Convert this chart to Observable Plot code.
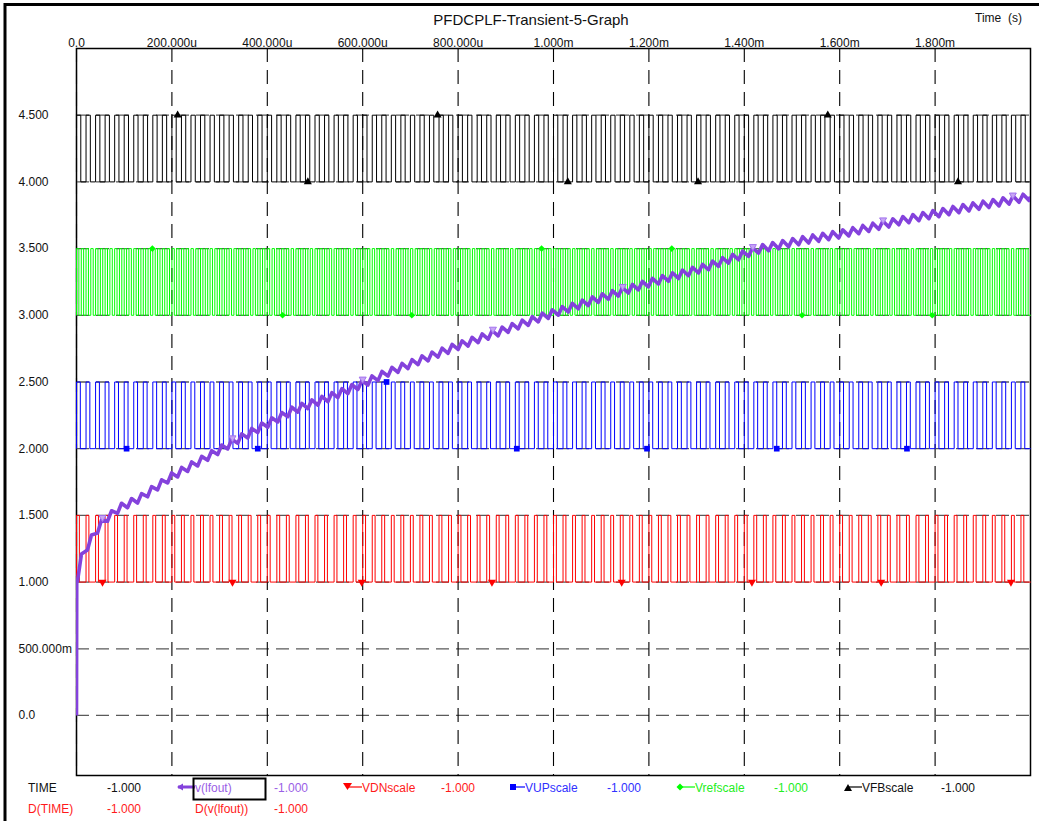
<!DOCTYPE html>
<html><head><meta charset="utf-8">
<script src="https://cdn.jsdelivr.net/npm/d3@7"></script>
<script src="https://cdn.jsdelivr.net/npm/@observablehq/plot@0.6"></script>
<style>
html,body{margin:0;padding:0;background:#fff;}
#chart{width:1039px;height:821px;}
svg text{font-family:"Liberation Sans",Arial,sans-serif;}
</style></head><body><div id="chart"></div>
<script>
// ---- axis ticks / labels ----
const xTicks = [0, 200e-6, 400e-6, 600e-6, 800e-6, 1.0e-3, 1.2e-3, 1.4e-3, 1.6e-3, 1.8e-3];
const xTickLabels = ["0.0","200.000u","400.000u","600.000u","800.000u","1.000m","1.200m","1.400m","1.600m","1.800m"];
const yTicks = [0, 0.5, 1.0, 1.5, 2.0, 2.5, 3.0, 3.5, 4.0, 4.5];
const yTickLabels = ["0.0","500.000m","1.000","1.500","2.000","2.500","3.000","3.500","4.000","4.500"];

// ---- v(lfout): mean level (time in ms, volts) ----
const lfoutTimeMs = [0, 0.0005, 0.0084, 0.0336, 0.0566, 0.0923, 0.134, 0.199, 0.260, 0.329, 0.386, 0.455, 0.527, 0.596, 0.652, 0.799, 0.889, 0.994, 1.099, 1.198, 1.309, 1.435, 1.519, 1.603, 1.729, 1.854, 1.938, 2.0];
const lfoutVolts  = [0, 1.00, 1.17, 1.34, 1.46, 1.56, 1.63, 1.79, 1.91, 2.05, 2.16, 2.29, 2.38, 2.48, 2.57, 2.77, 2.88, 3.01, 3.13, 3.24, 3.35, 3.50, 3.56, 3.61, 3.71, 3.80, 3.85, 3.89];
const lfoutRipplePeriodUs = 21;   // tooth spacing seen on the trace
const lfoutRippleVolts = 0.055;   // tooth height seen on the trace
const lfoutMarkerMs = [0.0545, 0.327, 0.600, 0.873, 1.145, 1.418, 1.691, 1.963];

// ---- scaled digital signals: [low, high] level, period (us), pulse width (us) ----
const vdnLevels = [1.0, 1.5];  const vdnPeriodUs = 20;  const vdnPulseUs = 6;
const vupLevels = [2.0, 2.5];  const vupPeriodUs = 20;  const vupPulseUs = 8;
const vrefLevels = [3.0, 3.5]; const vrefPeriodUs = 10; const vrefPulseUs = 5;
const vfbLevels = [4.0, 4.5];  const vfbPeriodUs = 20;  const vfbPulseUs = 9;

// ---- marker positions on each trace (ms, volts) ----
const vdnMarkerMs  = [0.0545, 0.327, 0.598, 0.871, 1.143, 1.416, 1.687, 1.959];
const vdnMarkerV   = [1.0, 1.0, 1.0, 1.0, 1.0, 1.0, 1.0, 1.0];
const vupMarkerMs  = [0.105, 0.380, 0.650, 0.923, 1.196, 1.468, 1.741];
const vupMarkerV   = [2.0, 2.0, 2.5, 2.0, 2.0, 2.0, 2.0];
const vrefMarkerMs = [0.159, 0.432, 0.703, 0.975, 1.248, 1.521, 1.794];
const vrefMarkerV  = [3.5, 3.0, 3.0, 3.5, 3.5, 3.0, 3.0];
const vfbMarkerMs  = [0.212, 0.485, 0.757, 1.030, 1.303, 1.575, 1.848];
const vfbMarkerV   = [4.5, 4.0, 4.5, 4.0, 4.0, 4.5, 4.0];

const tEndUs = 2000;
const colors = {lfout:"#8442dc", vdn:"#ff0000", vup:"#0000ff", vref:"#00ff00", vfb:"#000000"};

function squareWave(levels, periodUs, pulseUs) {
  const pts = [{t: 0, v: levels[0]}];
  for (let s = 0; s < tEndUs; s += periodUs) {
    pts.push({t: s * 1e-6, v: levels[1]});
    pts.push({t: Math.min(s + pulseUs, tEndUs) * 1e-6, v: levels[0]});
  }
  pts.push({t: tEndUs * 1e-6, v: pts[pts.length - 1].v});
  return pts;
}
function markers(ms, v) { return ms.map((m, i) => ({t: m * 1e-3, v: v[i]})); }

const env = d3.scaleLinear().domain(lfoutTimeMs).range(lfoutVolts);
const lfout = [{t: 0, v: lfoutVolts[0]}, {t: lfoutTimeMs[1] * 1e-3, v: lfoutVolts[1]}];
for (let s = 2; s < tEndUs; s += lfoutRipplePeriodUs) {
  const a = s, b = s + lfoutRipplePeriodUs * 0.4;
  lfout.push({t: a * 1e-6, v: env(a / 1000) - lfoutRippleVolts / 2});
  if (b < tEndUs) lfout.push({t: b * 1e-6, v: env(b / 1000) + lfoutRippleVolts / 2});
}
lfout.push({t: tEndUs * 1e-6, v: env(2.0)});

const plot = Plot.plot({
  width: 1039, height: 821,
  marginLeft: 76, marginRight: 9, marginTop: 48, marginBottom: 46,
  style: {fontFamily: "Liberation Sans, Arial, sans-serif", fontSize: "12px", background: "#fff", overflow: "visible"},
  x: {domain: [0, 2.0e-3], label: null},
  y: {domain: [-0.45, 5.0], label: null},
  marks: [
    Plot.frame({stroke: "#000", strokeWidth: 1.5}),
    Plot.ruleY(yTicks, {stroke: "#5a5a5a", strokeWidth: 1.3, strokeDasharray: "13,7"}),
    Plot.ruleX(xTicks, {stroke: "#000", strokeWidth: 1.1, strokeDasharray: "14,8"}),
    Plot.line(squareWave(vfbLevels, vfbPeriodUs, vfbPulseUs), {x: "t", y: "v", curve: "step-after", stroke: colors.vfb, strokeWidth: 1}),
    Plot.line(squareWave(vrefLevels, vrefPeriodUs, vrefPulseUs), {x: "t", y: "v", curve: "step-after", stroke: colors.vref, strokeWidth: 1}),
    Plot.line(squareWave(vupLevels, vupPeriodUs, vupPulseUs), {x: "t", y: "v", curve: "step-after", stroke: colors.vup, strokeWidth: 1}),
    Plot.line(squareWave(vdnLevels, vdnPeriodUs, vdnPulseUs), {x: "t", y: "v", curve: "step-after", stroke: colors.vdn, strokeWidth: 1}),
    Plot.line(lfout, {x: "t", y: "v", stroke: colors.lfout, strokeWidth: 3.6, strokeLinejoin: "round", strokeLinecap: "butt", clip: true}),
    Plot.dot(markers(vdnMarkerMs, vdnMarkerV), {x: "t", y: "v", symbol: "triangle", rotate: 180, r: 3, fill: colors.vdn, stroke: "none"}),
    Plot.dot(markers(vupMarkerMs, vupMarkerV), {x: "t", y: "v", symbol: "square", r: 3.2, fill: colors.vup, stroke: "none"}),
    Plot.dot(markers(vrefMarkerMs, vrefMarkerV), {x: "t", y: "v", symbol: "diamond2", r: 3, fill: colors.vref, stroke: "none"}),
    Plot.dot(markers(vfbMarkerMs, vfbMarkerV), {x: "t", y: "v", symbol: "triangle", r: 3, fill: colors.vfb, stroke: "none"}),
    Plot.dot(lfoutMarkerMs.map(m => ({t: m * 1e-3, v: env(m) + 0.035})), {x: "t", y: "v", symbol: "triangle", rotate: 180, r: 2.6, fill: "#c7a6f5", stroke: "#a373ee", strokeWidth: 1}),
    Plot.axisX({anchor: "top", ticks: xTicks, tickFormat: (d, i) => xTickLabels[i], tickSize: 0, tickPadding: 2, fill: "#111", fontSize: 12}),
    Plot.axisY({anchor: "left", ticks: yTicks, tickFormat: (d, i) => yTickLabels[i], tickSize: 0, tickPadding: 0, textAnchor: "start", dx: -58, fill: "#111", fontSize: 12})
  ]
});
document.getElementById("chart").appendChild(plot);

// ---- title, units, legend, outer border ----
const svg = d3.select(plot);
svg.append("path").attr("d", "M5,821V4.5H1039").attr("fill", "none").attr("stroke", "#000").attr("stroke-width", 3);
function txt(x, y, s, color, size, anchor) {
  svg.append("text").attr("x", x).attr("y", y).attr("fill", color).attr("font-size", size || 12)
    .attr("text-anchor", anchor || "start").style("white-space", "pre").text(s);
}
txt(531, 25, "PFDCPLF-Transient-5-Graph", "#111", 15, "middle");
txt(975, 22, "Time  (s)", "#111", 12);

const legendRow1 = 792, legendRow2 = 813;
txt(28, legendRow1, "TIME", "#111");
txt(107, legendRow1, "-1.000", "#111");
txt(28, legendRow2, "D(TIME)", "#ff1a1a");
txt(107, legendRow2, "-1.000", "#ff1a1a");
// v(lfout)
svg.append("line").attr("x1", 178).attr("x2", 195).attr("y1", 787).attr("y2", 787).attr("stroke", colors.lfout).attr("stroke-width", 3);
svg.append("path").attr("d", "M177,787l6,-3.5v7z").attr("fill", colors.lfout);
svg.append("rect").attr("x", 193.5).attr("y", 778.5).attr("width", 72).attr("height", 21).attr("fill", "none").attr("stroke", "#000").attr("stroke-width", 2);
txt(195, legendRow1, "v(lfout)", "#9a5ee6");
txt(274, legendRow1, "-1.000", "#9a5ee6");
txt(195, legendRow2, "D(v(lfout))", "#ff1a1a");
txt(274, legendRow2, "-1.000", "#ff1a1a");
// VDN
svg.append("path").attr("d", "M343,783h9l-4.5,7z").attr("fill", colors.vdn);
svg.append("line").attr("x1", 348).attr("x2", 362).attr("y1", 787).attr("y2", 787).attr("stroke", colors.vdn).attr("stroke-width", 1.2);
txt(362, legendRow1, "VDNscale", "#ff1a1a");
txt(441, legendRow1, "-1.000", "#ff1a1a");
// VUP
svg.append("rect").attr("x", 510).attr("y", 784).attr("width", 6).attr("height", 6).attr("fill", colors.vup);
svg.append("line").attr("x1", 513).attr("x2", 525).attr("y1", 787).attr("y2", 787).attr("stroke", colors.vup).attr("stroke-width", 1.2);
txt(525, legendRow1, "VUPscale", "#3030ff");
txt(607, legendRow1, "-1.000", "#3030ff");
// Vref
svg.append("path").attr("d", "M676.5,787l3.5,-3.5l3.5,3.5l-3.5,3.5z").attr("fill", colors.vref);
svg.append("line").attr("x1", 680).attr("x2", 695).attr("y1", 787).attr("y2", 787).attr("stroke", colors.vref).attr("stroke-width", 1.2);
txt(695, legendRow1, "Vrefscale", "#22ee22");
txt(774, legendRow1, "-1.000", "#22ee22");
// VFB
svg.append("path").attr("d", "M844,791h8l-4,-7z").attr("fill", colors.vfb);
svg.append("line").attr("x1", 848).attr("x2", 862).attr("y1", 787).attr("y2", 787).attr("stroke", colors.vfb).attr("stroke-width", 1.2);
txt(862, legendRow1, "VFBscale", "#111");
txt(941, legendRow1, "-1.000", "#111");
</script></body></html>
